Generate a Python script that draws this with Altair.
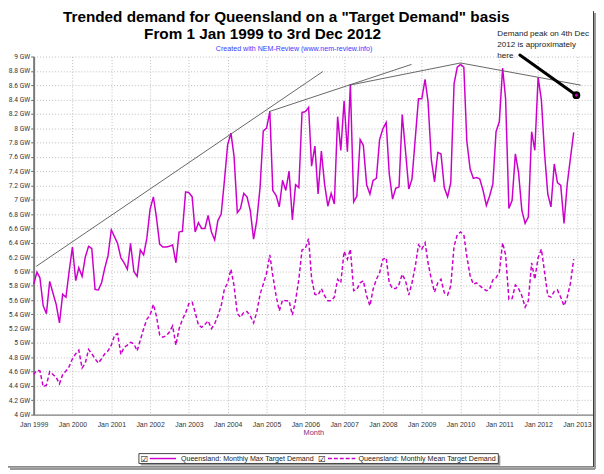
import altair as alt
import pandas as pd

# ---------------- data ----------------
max_demand = [
    5.82, 5.99, 5.91, 5.52, 5.41, 5.86, 5.70, 5.54, 5.28, 5.68, 5.64, 6.00,  # 1999
    6.34, 5.87, 6.05, 5.93, 6.20, 6.35, 6.32, 5.75, 5.74, 5.84, 6.05, 6.22,  # 2000
    6.58, 6.48, 6.39, 6.19, 6.12, 6.03, 6.39, 6.00, 5.93, 6.30, 6.23, 6.46,  # 2001
    6.87, 7.04, 6.76, 6.38, 6.34, 6.34, 6.35, 6.37, 6.12, 6.55, 6.56, 7.11,  # 2002
    7.10, 7.04, 6.55, 6.68, 6.60, 6.60, 6.78, 6.55, 6.44, 6.71, 6.80, 7.26,  # 2003
    7.77, 7.93, 7.61, 6.82, 6.88, 7.09, 7.04, 6.85, 6.45, 6.71, 7.17, 7.96,  # 2004
    8.00, 8.23, 7.13, 7.06, 6.90, 7.27, 7.13, 7.40, 6.72, 7.21, 7.17, 8.22,  # 2005
    8.23, 8.29, 7.47, 7.75, 7.08, 7.68, 7.22, 6.91, 7.09, 6.94, 8.16, 7.69,  # 2006
    8.38, 7.67, 8.61, 6.97, 7.05, 7.84, 7.76, 7.21, 7.08, 7.27, 7.30, 7.84,  # 2007
    7.99, 8.08, 7.36, 7.01, 7.16, 7.18, 8.19, 7.68, 7.15, 7.29, 7.86, 8.41,  # 2008
    8.41, 8.68, 8.37, 7.56, 7.25, 7.66, 7.64, 7.17, 7.04, 7.24, 8.62, 8.85,  # 2009
    8.89, 8.85, 7.82, 7.43, 7.30, 7.31, 7.29, 7.13, 6.92, 7.05, 7.22, 7.95,  # 2010
    8.09, 8.84, 8.41, 6.88, 6.99, 7.64, 7.38, 6.85, 6.67, 6.76, 7.95, 7.69,  # 2011
    8.71, 8.39, 7.66, 7.08, 6.90, 7.50, 7.24, 7.20, 6.67, 7.22, 7.59, 7.94,  # 2012
]
mean_demand = [
    4.56, 4.62, 4.61, 4.39, 4.41, 4.60, 4.56, 4.52, 4.43, 4.56, 4.61, 4.67,  # 1999
    4.78, 4.85, 4.90, 4.65, 4.72, 4.91, 4.85, 4.78, 4.72, 4.78, 4.85, 4.89,  # 2000
    4.97, 5.11, 5.13, 4.84, 4.94, 4.97, 5.01, 4.99, 4.89, 5.04, 5.20, 5.33,  # 2001
    5.39, 5.54, 5.38, 5.11, 5.08, 5.10, 5.15, 5.24, 4.97, 5.20, 5.33, 5.42,  # 2002
    5.55, 5.57, 5.43, 5.25, 5.22, 5.26, 5.31, 5.20, 5.27, 5.38, 5.52, 5.75,  # 2003
    5.84, 6.03, 5.80, 5.41, 5.36, 5.43, 5.44, 5.38, 5.28, 5.43, 5.68, 5.82,  # 2004
    5.97, 6.23, 5.94, 5.66, 5.45, 5.60, 5.59, 5.59, 5.39, 5.59, 5.89, 6.30,  # 2005
    6.32, 6.46, 5.90, 5.68, 5.67, 5.76, 5.66, 5.59, 5.59, 5.64, 5.89, 5.84,  # 2006
    6.28, 6.17, 6.31, 5.73, 5.75, 5.84, 5.87, 5.66, 5.52, 5.75, 5.89, 5.98,  # 2007
    6.17, 6.19, 5.84, 5.76, 5.76, 5.82, 5.96, 5.87, 5.67, 5.84, 6.07, 6.37,  # 2008
    6.31, 6.40, 6.12, 5.89, 5.71, 5.84, 5.89, 5.70, 5.67, 5.80, 6.35, 6.51,  # 2009
    6.55, 6.51, 6.21, 5.94, 5.82, 5.84, 5.80, 5.76, 5.73, 5.75, 5.88, 5.91,  # 2010
    5.99, 6.40, 6.23, 5.61, 5.62, 5.81, 5.76, 5.66, 5.50, 5.59, 6.12, 5.89,  # 2011
    6.19, 6.31, 6.00, 5.66, 5.64, 5.72, 5.74, 5.64, 5.52, 5.64, 5.84, 6.17,  # 2012
]
series_names = ["Queensland: Monthly Max Target Demand",
                "Queensland: Monthly Mean Target Demand"]

# hand-drawn trend lines (start/end in data units)
trend_start_dates = ["1999-01-25", "2005-01-24", "2007-02-21", "2010-01-01"]
trend_start_vals = [6.07, 8.23, 8.60, 8.91]
trend_end_dates = ["2006-06-15", "2008-09-27", "2010-01-01", "2013-02-06"]
trend_end_vals = [8.79, 8.89, 8.91, 8.60]

# annotation arrow + marker
arrow_start_date, arrow_start_val = "2011-07-13", 9.02
peak_date, peak_val = "2012-12-26", 8.46

y_ticks = [round(4 + 0.2 * i, 1) for i in range(26)]
x_tick_years = list(range(1999, 2014))

title_line1 = 'Trended demand for Queensland on a "Target Demand" basis'
title_line2 = "From 1 Jan 1999 to 3rd Dec 2012"
subtitle = "Created with NEM-Review (www.nem-review.info)"
note_lines = ["Demand peak on 4th Dec", "2012 is approximately", "here"]

# ---------------- tables ----------------
months = pd.date_range("1999-01-01", periods=len(max_demand), freq="MS")
series_df = pd.DataFrame({
    "date": list(months) * 2,
    "value": max_demand + mean_demand,
    "series": [series_names[0]] * len(max_demand) + [series_names[1]] * len(mean_demand),
})
trend_df = pd.DataFrame({
    "date": pd.to_datetime(trend_start_dates), "value": trend_start_vals,
    "date2": pd.to_datetime(trend_end_dates), "value2": trend_end_vals,
})
arrow_df = pd.DataFrame({
    "date": [pd.Timestamp(arrow_start_date)], "value": [arrow_start_val],
    "date2": [pd.Timestamp(peak_date)], "value2": [peak_val],
})
peak_df = pd.DataFrame({"date": [pd.Timestamp(peak_date)], "value": [peak_val]})
one = pd.DataFrame({"k": [0]})

MAG = "#CC00CC"
LABEL_FONT = "Liberation Sans"

x_scale = alt.Scale(domain=[alt.DateTime(year=1999, month=1, date=1),
                            alt.DateTime(year=2013, month=6, date=1)])
y_scale = alt.Scale(domain=[4, 9], nice=False, zero=False)

x_axis = alt.Axis(
    values=[alt.DateTime(year=y, month=1, date=1) for y in x_tick_years],
    format="%b %Y", title="Month", grid=True, ticks=False,
    labelFontSize=7, labelFont=LABEL_FONT, labelColor="#333333", labelPadding=6,
    labelOverlap=False, labelFlush=False,
    titleFontSize=7.5, titleFont=LABEL_FONT, titleColor="#7b2d7b",
    titleFontWeight="normal", titlePadding=1,
    domainColor="#808080", domainWidth=1.5,
    gridColor="#bdbdbd", gridDash=[1, 2], gridWidth=1,
)
y_axis = alt.Axis(
    values=y_ticks, labelExpr="format(datum.value, '~g') + ' GW'", title=None,
    grid=True, gridColor="#bdbdbd", gridDash=[1, 2], gridWidth=1,
    labelFontSize=6.8, labelFont="Roboto",
    labelColor="#333333", labelPadding=1, labelOverlap=False,
    tickSize=3, tickColor="#666666", domainColor="#7a7a7a", domainWidth=2,
)

X = alt.X("date:T", scale=x_scale, axis=x_axis)
Y = alt.Y("value:Q", scale=y_scale, axis=y_axis)

lines = alt.Chart(series_df).mark_line(color=MAG, strokeWidth=1.5).encode(
    x=X, y=Y,
    strokeDash=alt.StrokeDash("series:N", legend=None,
                              scale=alt.Scale(domain=series_names, range=[[1, 0], [4, 2.5]])),
)

trends = alt.Chart(trend_df).mark_rule(color="#555555", strokeWidth=0.9).encode(
    x=X, y=Y, x2="date2:T", y2="value2:Q")

arrow = alt.Chart(arrow_df).mark_rule(color="black", strokeWidth=3, strokeCap="round").encode(
    x=X, y=Y, x2="date2:T", y2="value2:Q")

peak = alt.Chart(peak_df).mark_point(
    shape="circle", filled=True, size=30, fill=MAG, stroke="black", strokeWidth=2.5, opacity=1
).encode(x=X, y=Y)


def txt(s, x, y, size, color="#000000", weight="normal", align="left", font=LABEL_FONT,
        baseline="alphabetic", lh=None):
    kw = dict(text=s, fontSize=size, color=color, fontWeight=weight, align=align,
              font=font, baseline=baseline)
    if lh is not None:
        kw["lineHeight"] = lh
    return alt.Chart(one).mark_text(**kw).encode(x=alt.value(x), y=alt.value(y))


# plot origin is at page (34, 54)
t1 = txt(title_line1, 256, -35, 15.5, weight="bold", align="center")
t2 = txt(title_line2, 232, -18, 15.5, weight="bold", align="center")
t3 = txt(subtitle, 264, -6, 7.2, color="#3b3bff", align="center")
note = txt(note_lines, 470, -21, 8.2, color="#222222", lh=11.5)

# legend (box, checkboxes, line samples, labels)
leg_shadow = alt.Chart(one).mark_rect(fill="#9a9a9a").encode(
    x=alt.value(108.5), x2=alt.value(473), y=alt.value(404.5), y2=alt.value(414.5))
leg_box = alt.Chart(one).mark_rect(fill="white", stroke="#444444", strokeWidth=1).encode(
    x=alt.value(106.7), x2=alt.value(471), y=alt.value(402.5), y2=alt.value(412.5))
chk1 = txt("\u2611", 112.3, 407.7, 8.5, font="DejaVu Sans", align="center", baseline="middle")
chk2 = txt("\u2611", 292.2, 407.7, 8.5, font="DejaVu Sans", align="center", baseline="middle")
leg_l1 = alt.Chart(one).mark_rule(color=MAG, strokeWidth=1.5).encode(
    x=alt.value(117.7), x2=alt.value(144.3), y=alt.value(407.5))
leg_l2 = alt.Chart(one).mark_rule(color=MAG, strokeWidth=1.5, strokeDash=[4, 2]).encode(
    x=alt.value(298.3), x2=alt.value(326), y=alt.value(407.5))
lab1 = txt(series_names[0], 149.3, 407.7, 7.2, color="#222222", baseline="middle")
lab2 = txt(series_names[1], 329.3, 407.7, 7.2, color="#222222", baseline="middle")

# outer frame (right & bottom edges with shadow)
frame_r = alt.Chart(one).mark_rule(color="#9a9a9a", strokeWidth=2).encode(
    x=alt.value(569), y=alt.value(-44), y2=alt.value(418))
frame_b = alt.Chart(one).mark_rule(color="#9a9a9a", strokeWidth=2).encode(
    x=alt.value(-24), x2=alt.value(569), y=alt.value(418))
frame_r2 = alt.Chart(one).mark_rule(color="#333333", strokeWidth=1).encode(
    x=alt.value(567.5), y=alt.value(-46), y2=alt.value(416))
frame_b2 = alt.Chart(one).mark_rule(color="#333333", strokeWidth=1).encode(
    x=alt.value(-26), x2=alt.value(567.5), y=alt.value(416))

chart = alt.layer(
    lines, trends, arrow, peak,
    t1, t2, t3, note,
    leg_shadow, leg_box, chk1, chk2, leg_l1, leg_l2, lab1, lab2,
    frame_r, frame_b, frame_r2, frame_b2,
).properties(
    width=567, height=363,
    autosize=alt.AutoSizeParams(type="none"),
    padding={"left": 26, "top": 46, "right": 3, "bottom": 57},
    background="white",
).configure_view(stroke=None)

chart.save("out.html", embed_options={"renderer": "svg", "actions": False})
